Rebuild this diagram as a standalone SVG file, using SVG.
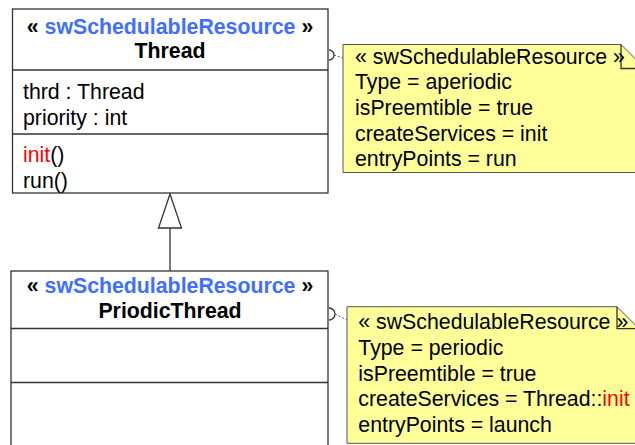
<svg xmlns="http://www.w3.org/2000/svg" width="635" height="445" viewBox="0 0 635 445">
<style>
text{font-family:"Liberation Sans",Arial,sans-serif;font-size:21.3px;fill:#000}
.b{font-weight:bold}
.st{fill:#3f6fff}
.red{fill:#ff0000}
.box{fill:#fff;stroke:#333;stroke-width:1.3}
.note{fill:#ffff99;stroke:#555;stroke-width:1}
.ln{stroke:#333;stroke-width:1.3;fill:none}
.dash{stroke:#555;stroke-width:1;stroke-dasharray:2,2;fill:none}
</style>
<rect width="635" height="445" fill="#fff"/>
<g id="connectors">
<line class="ln" x1="170" y1="228" x2="170" y2="271"/>
<polygon points="170,194 158.5,228 181.5,228" fill="#fff" stroke="#333" stroke-width="1.3"/>
<path class="ln" d="M329,50 A5,5 0 0 1 329,60" stroke-width="1"/>
<line class="dash" x1="334" y1="55" x2="343" y2="58"/>
<path class="ln" d="M329,308 A6,6 0 0 1 329,320" stroke-width="1"/>
<line class="dash" x1="335" y1="314" x2="347" y2="320"/>
</g>
<g id="thread">
<rect class="box" x="12.5" y="9" width="315.5" height="184"/>
<line class="ln" x1="12.5" y1="70" x2="328" y2="70"/>
<line class="ln" x1="12.5" y1="134" x2="328" y2="134"/>
<text class="b" x="170" y="34" text-anchor="middle">« <tspan class="st">swSchedulableResource</tspan> »</text>
<text class="b" x="170" y="58" text-anchor="middle">Thread</text>
<text x="23" y="98.5">thrd : Thread</text>
<text x="23" y="124.5">priority : int</text>
<text x="23" y="162"><tspan class="red">init</tspan>()</text>
<text x="23" y="188">run()</text>
</g>
<g id="priodicthread">
<rect class="box" x="11" y="271" width="317" height="190"/>
<line class="ln" x1="11" y1="328.5" x2="328" y2="328.5"/>
<line class="ln" x1="11" y1="382.5" x2="328" y2="382.5"/>
<text class="b" x="170" y="292.5" text-anchor="middle">« <tspan class="st">swSchedulableResource</tspan> »</text>
<text class="b" x="170" y="318" text-anchor="middle">PriodicThread</text>
</g>
<g id="note1">
<path class="note" d="M343,44.5 H621 L645,68.5 V172.5 H343 Z"/>
<path class="ln" d="M621,44.5 V68.5 H645" stroke="#555" stroke-width="1"/>
<text x="355" y="63.5">« swSchedulableResource »</text>
<text x="355" y="89.3">Type = aperiodic</text>
<text x="355" y="115">isPreemtible = true</text>
<text x="355" y="140.7">createServices = init</text>
<text x="355" y="166.3">entryPoints = run</text>
</g>
<g id="note2">
<path class="note" d="M347,306.7 H617 L639,328.7 V443.3 H347 Z"/>
<path class="ln" d="M617,306.7 V328.7 H639" stroke="#555" stroke-width="1"/>
<text x="358.3" y="329.3">« swSchedulableResource »</text>
<text x="358.3" y="355">Type = periodic</text>
<text x="358.3" y="380.5">isPreemtible = true</text>
<text x="358.3" y="406">createServices = Thread::<tspan class="red">init</tspan></text>
<text x="358.3" y="431.7">entryPoints = launch</text>
</g>
</svg>
